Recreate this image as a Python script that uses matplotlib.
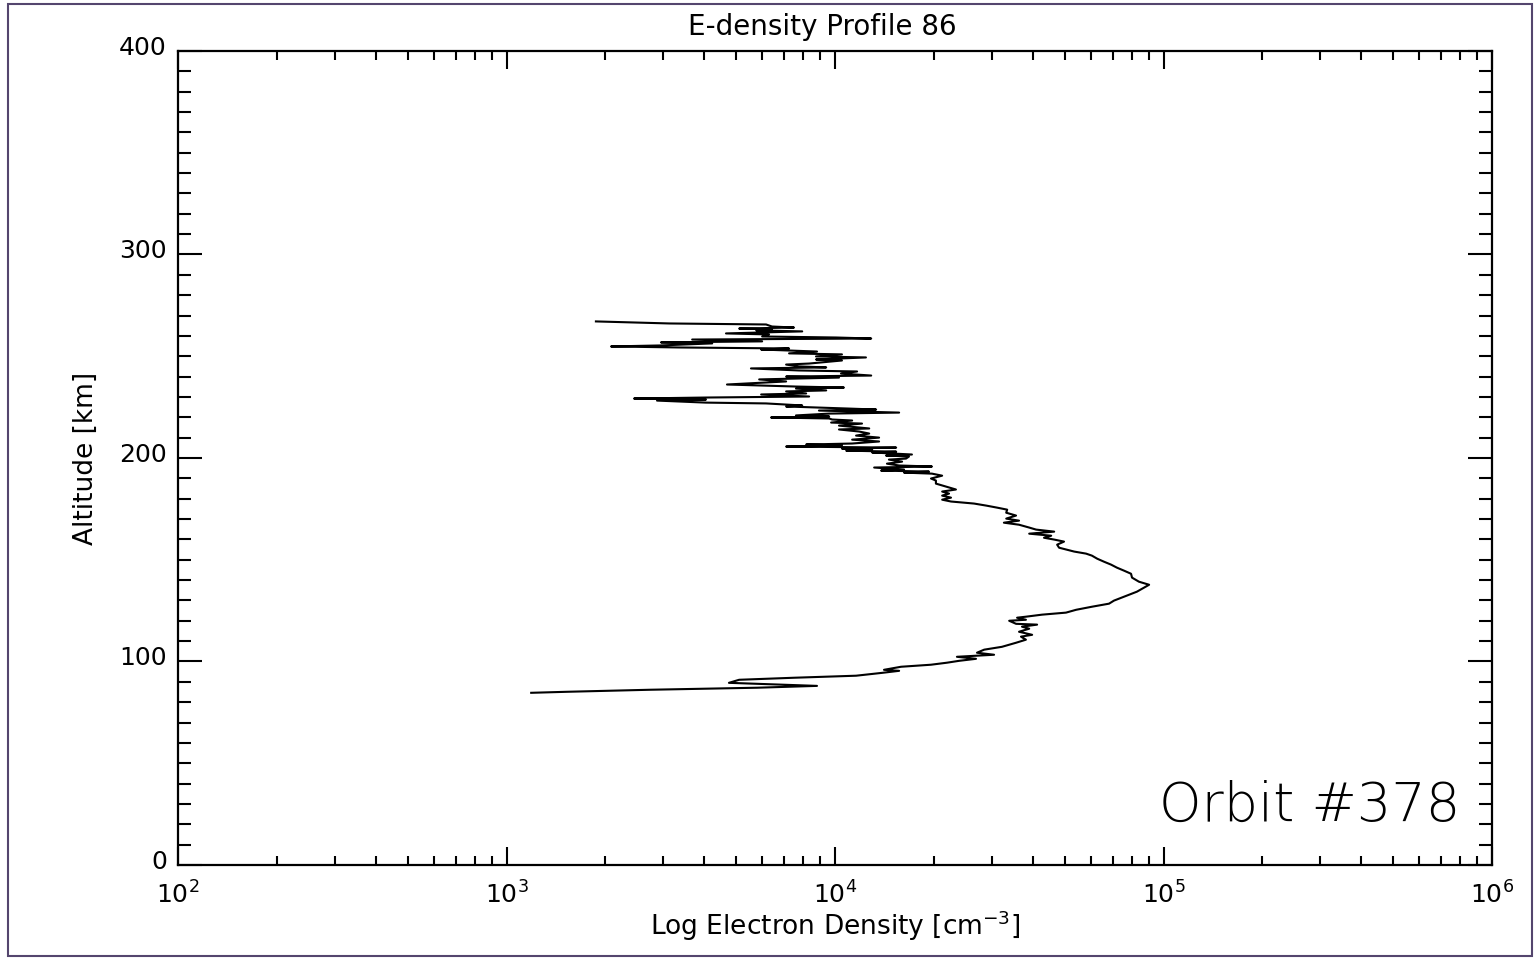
import numpy as np
import matplotlib
matplotlib.use('Agg')
import matplotlib.pyplot as plt
from matplotlib.patches import Rectangle
from matplotlib.ticker import MultipleLocator
from matplotlib.transforms import ScaledTranslation

# Profile values (altitude in km, log10 of electron density in cm^-3)
altitude_km = [
    84.6, 85.1, 86.1, 87.1, 88.0, 89.5, 91.0, 92.0, 93.0, 94.4,
    95.4, 95.9, 97.4, 98.4, 99.4, 100.3, 101.3, 102.3, 103.3, 104.3,
    105.8, 107.2, 109.2, 110.7, 112.2, 113.1, 114.6, 116.1, 117.1, 118.1,
    118.5, 120.0, 120.5, 121.5, 122.0, 123.0,
    124.0, 125.4, 126.9, 128.4, 129.9, 131.3, 132.8, 134.3, 136.3, 137.7,
    139.2, 141.2, 143.1, 144.6, 146.1, 147.6, 149.0, 150.5, 152.0, 153.0,
    154.0, 154.9, 155.9, 157.4, 158.9, 159.9, 160.8, 161.8, 162.8, 163.8,
    164.8, 165.8, 167.2, 168.2, 169.2, 170.2, 171.7, 173.1, 174.6, 175.6,
    176.6, 177.6, 178.6, 179.5, 180.5, 181.5, 182.5, 183.5, 184.5, 185.9,
    187.4, 188.9, 189.9, 191.3, 192.3, 192.8, 193.3, 193.8, 194.3, 195.3,
    195.8, 196.3, 197.2, 198.2, 199.2, 199.7, 200.7, 201.2, 201.7, 202.7,
    203.1, 203.6, 204.1, 204.6, 205.1, 205.6, 206.1, 206.6, 207.1, 208.1,
    209.0, 210.0, 211.0, 212.0, 213.0, 214.0, 214.5, 215.4, 215.9, 216.9,
    217.4, 218.4, 218.9, 219.4, 219.9, 220.4, 220.9, 221.8, 222.3, 223.3,
    223.8, 224.3, 225.3, 225.8, 226.8, 227.2, 228.2, 228.7, 229.2, 229.7,
    230.2, 231.2, 231.7, 232.7, 233.2, 234.1, 234.6, 235.1, 236.1, 236.6,
    237.6, 238.6, 239.5, 240.0, 240.5, 241.5, 242.5, 243.0, 244.0, 244.5,
    245.0, 245.9, 246.4, 247.9, 248.4, 249.4, 249.9, 250.9, 251.4, 252.3,
    253.3, 253.8, 254.3, 254.8, 255.3, 256.3, 256.8, 257.3, 258.2, 258.7,
    259.2, 259.7, 260.7, 261.2, 262.2, 262.7, 263.2, 263.6, 264.1, 264.6,
    265.6, 266.1, 267.1,
]
log_density = [
    3.075, 3.184, 3.437, 3.763, 3.945, 3.677, 3.708, 3.875, 4.064, 4.143,
    4.195, 4.149, 4.201, 4.292, 4.341, 4.377, 4.429, 4.371, 4.484, 4.432,
    4.454, 4.508, 4.551, 4.581, 4.566, 4.600, 4.560, 4.591, 4.569, 4.615,
    4.551, 4.530, 4.581, 4.554, 4.581, 4.630,
    4.703, 4.734, 4.782, 4.834, 4.849, 4.871, 4.895, 4.919, 4.941, 4.956,
    4.925, 4.904, 4.901, 4.880, 4.858, 4.840, 4.819, 4.798, 4.782, 4.764,
    4.728, 4.706, 4.682, 4.676, 4.697, 4.667, 4.636, 4.658, 4.591, 4.667,
    4.612, 4.591, 4.560, 4.514, 4.560, 4.521, 4.551, 4.521, 4.524, 4.493,
    4.460, 4.423, 4.353, 4.326, 4.353, 4.326, 4.347, 4.326, 4.368, 4.338,
    4.307, 4.307, 4.292, 4.326, 4.295, 4.210, 4.286, 4.140, 4.210, 4.119,
    4.295, 4.195, 4.158, 4.204, 4.164, 4.216, 4.225, 4.155, 4.234, 4.113,
    4.186, 4.034, 4.113, 4.021, 4.186, 3.851, 4.021, 3.912, 4.052, 4.134,
    4.052, 4.134, 4.064, 4.104, 4.073, 4.012, 4.104, 4.043, 4.012, 4.082,
    3.988, 4.052, 3.991, 3.982, 3.805, 3.982, 3.881, 3.982, 4.195, 3.951,
    4.125, 4.037, 3.851, 3.900, 3.790, 3.607, 3.458, 3.607, 3.388, 3.607,
    3.921, 3.775, 3.912, 3.851, 3.973, 3.881, 4.027, 3.881, 3.671, 3.729,
    3.851, 3.769, 4.012, 3.851, 4.110, 4.018, 4.067, 3.890, 3.744, 3.973,
    3.890, 3.851, 3.921, 4.021, 3.942, 4.094, 3.942, 4.021, 3.860, 3.945,
    3.775, 3.860, 3.525, 3.318, 3.470, 3.626, 3.470, 3.778, 3.565, 4.110,
    4.003, 3.778, 3.799, 3.668, 3.900, 3.760, 3.808, 3.708, 3.875, 3.808,
    3.790, 3.495, 3.272,
]
profile_number = 86
orbit_number = 378
y_ticks = [0, 100, 200, 300, 400]

density = 10 ** np.array(log_density)

fig = plt.figure(figsize=(15.39, 9.6), dpi=100)
ax = fig.add_axes([0.1157, 0.099, 0.8538, 0.8479])

ax.plot(density, altitude_km, color='black', linewidth=1.5)

ax.set_xscale('log')
ax.set_xlim(1e2, 1e6)
ax.set_ylim(0, 400)
ax.set_yticks(y_ticks)
ax.yaxis.set_minor_locator(MultipleLocator(10))

ax.tick_params(which='both', direction='in', top=True, right=True,
               width=1.5, color='black', labelsize=18)
ax.tick_params(axis='x', which='major', length=13, pad=12)
ax.tick_params(axis='x', which='minor', length=6.5)
ax.tick_params(axis='y', which='major', length=17, pad=8)
ax.tick_params(axis='y', which='minor', length=9.5)
for spine in ax.spines.values():
    spine.set_linewidth(1.6)

# nudge the altitude labels up a little, like the original
for lab in ax.get_yticklabels():
    lab.set_transform(lab.get_transform() + ScaledTranslation(0, 4 / 72, fig.dpi_scale_trans))

ax.set_xlabel(r'Log Electron Density [cm$^{-3}$]', fontsize=19)
ax.xaxis.set_label_coords(0.5, -0.054)
ax.set_ylabel('Altitude [km]', fontsize=19)
ax.yaxis.set_label_coords(-0.060, 0.5)

ax.text(0.49, 1.029, f'E-density Profile {profile_number}', transform=ax.transAxes,
        ha='center', va='center', fontsize=20)
ax.text(0.976, 0.072, f'Orbit #{orbit_number}', transform=ax.transAxes,
        ha='right', va='center', fontsize=39, fontweight='light')

# thin frame around the whole picture
fig.patches.append(Rectangle((0.0052, 0.0042), 0.9903, 0.9916, transform=fig.transFigure,
                             fill=False, edgecolor='#54466e', linewidth=1.5))

fig.savefig('out.png', dpi=100)
